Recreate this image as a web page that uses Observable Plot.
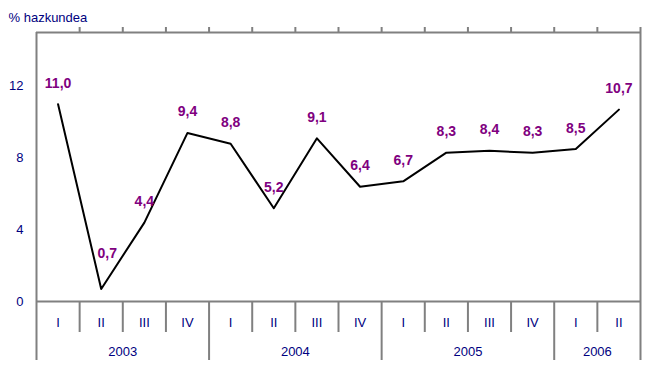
<!DOCTYPE html>
<html>
<head>
<meta charset="utf-8">
<script src="https://cdn.jsdelivr.net/npm/d3@7"></script>
<script src="https://cdn.jsdelivr.net/npm/@observablehq/plot@0.6"></script>
<style>
  html, body { margin: 0; padding: 0; background: #ffffff; }
  #chart { width: 649px; height: 372px; }
</style>
</head>
<body>
<div id="chart"></div>
<script>
const quarters = ["I","II","III","IV","I","II","III","IV","I","II","III","IV","I","II"];
const years = ["2003","2003","2003","2003","2004","2004","2004","2004","2005","2005","2005","2005","2006","2006"];
const values = [11.0, 0.7, 4.4, 9.4, 8.8, 5.2, 9.1, 6.4, 6.7, 8.3, 8.4, 8.3, 8.5, 10.7];
const yTicks = [0, 4, 8, 12];
const yLabel = "% hazkundea";

const n = values.length;
const data = values.map((v, i) => ({i, pos: i + 0.5, value: v, quarter: quarters[i], year: years[i]}));

// year groups
const yearGroups = d3.groups(data, d => d.year).map(([year, rows]) => ({
  year,
  start: d3.min(rows, r => r.i),
  end: d3.max(rows, r => r.i) + 1
})).map(g => ({...g, center: (g.start + g.end) / 2}));

const innerBounds = d3.range(1, n);
const yearBounds = innerBounds.filter(b => years[b] !== years[b - 1]);
const quarterBounds = innerBounds.filter(b => years[b] === years[b - 1]);

const navy = "#000080";
const grey = "#808080";
const purple = "#800080";
const fmt = v => v.toFixed(1).replace(".", ",");

const yMax = 15;
const pxPerUnit = (372 - 32 - 71) / yMax;
const u = px => px / pxPerUnit;

const chart = Plot.plot({
  width: 649,
  height: 372,
  marginLeft: 36,
  marginRight: 9,
  marginTop: 32,
  marginBottom: 71,
  style: {fontFamily: "'Liberation Sans', Arial, sans-serif", background: "#ffffff", overflow: "visible"},
  x: {domain: [0, n], axis: null},
  y: {domain: [0, yMax], axis: null},
  marks: [
    Plot.axisY({ticks: yTicks, tickSize: 0, tickPadding: 13, fill: navy, fontSize: 13, label: null, tickFormat: d => String(d)}),
    // frame
    Plot.ruleY([0], {x1: 0, x2: n, stroke: grey, strokeWidth: 2}),
    Plot.ruleY([yMax], {x1: 0, x2: n, stroke: grey, strokeWidth: 2}),
    Plot.ruleX([0], {y1: -u(59), y2: yMax, stroke: grey, strokeWidth: 2}),
    Plot.ruleX([n], {y1: -u(59), y2: yMax + u(5), stroke: grey, strokeWidth: 2}),
    // top ticks
    Plot.ruleX(innerBounds, {y1: yMax, y2: yMax + u(5), stroke: grey, strokeWidth: 2}),
    // bottom category ticks
    Plot.ruleX(quarterBounds, {y1: 0, y2: -u(31), stroke: grey, strokeWidth: 2}),
    Plot.ruleX(yearBounds, {y1: 0, y2: -u(59), stroke: grey, strokeWidth: 2}),
    // category labels
    Plot.text(data, {x: "pos", y: () => 0, text: "quarter", dy: 21, fill: navy, fontSize: 13}),
    Plot.text(yearGroups, {x: "center", y: () => 0, text: "year", dy: 50, fill: navy, fontSize: 13}),
    // title
    Plot.text([yLabel], {frameAnchor: "top-left", dx: -28, dy: -15, textAnchor: "start", lineAnchor: "middle", fill: navy, fontSize: 13}),
    // line
    Plot.line(data, {x: "pos", y: "value", stroke: "#000000", strokeWidth: 2}),
    // value labels
    Plot.text(data.filter(d => d.value >= 2), {x: "pos", y: "value", text: d => fmt(d.value), dy: -21, fill: purple, fontSize: 14, fontWeight: "bold"}),
    Plot.text(data.filter(d => d.value < 2), {x: "pos", y: "value", text: d => fmt(d.value), dx: 6, dy: -35, fill: purple, fontSize: 14, fontWeight: "bold"})
  ]
});
document.getElementById("chart").appendChild(chart);
</script>
</body>
</html>
